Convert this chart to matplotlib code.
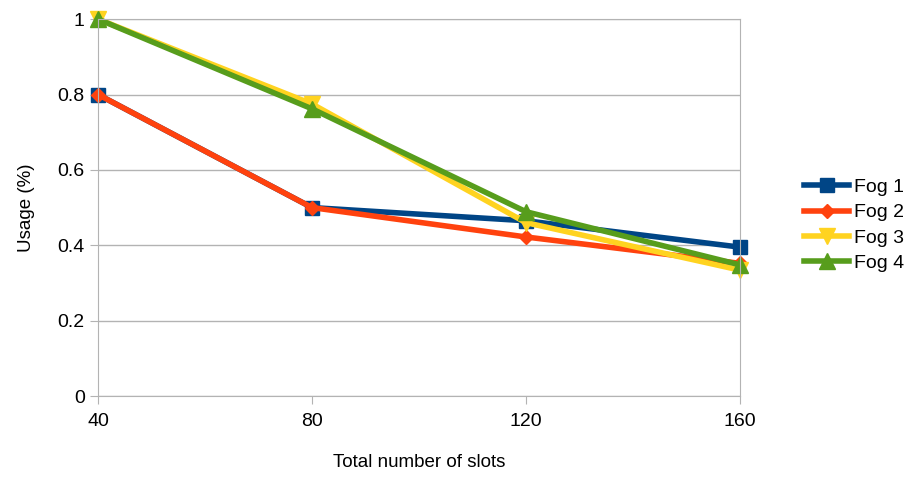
import matplotlib.pyplot as plt

# Data
slots = [40, 80, 120, 160]
fog1 = [0.80, 0.50, 0.465, 0.395]
fog2 = [0.80, 0.50, 0.422, 0.352]
fog3 = [1.00, 0.775, 0.46, 0.334]
fog4 = [1.00, 0.762, 0.489, 0.348]

series = [
    ('Fog 1', fog1, '#004586', 's', 10),
    ('Fog 2', fog2, '#ff420e', 'D', 7.5),
    ('Fog 3', fog3, '#ffd320', 'v', 11),
    ('Fog 4', fog4, '#579d1c', '^', 11),
]

plt.rcParams['font.family'] = ['Liberation Sans', 'DejaVu Sans']

fig = plt.figure(figsize=(9.13, 4.78), dpi=100)
ax = fig.add_axes([0.1073, 0.1715, 0.7032, 0.7885])

for name, vals, color, marker, ms in series:
    ax.plot(slots, vals, color=color, lw=4, marker=marker, ms=ms,
            label=name, clip_on=False)

ax.set_xlim(40, 160)
ax.set_ylim(0, 1)
ax.set_xticks(slots)
ax.set_yticks([0, 0.2, 0.4, 0.6, 0.8, 1])
ax.set_yticklabels(['0', '0.2', '0.4', '0.6', '0.8', '1'])
ax.grid(axis='y', color='#b3b3b3', lw=1)
ax.set_axisbelow(True)
for s in ax.spines.values():
    s.set_color('#b3b3b3')
ax.tick_params(colors='#b3b3b3', labelcolor='black', labelsize=14, length=5.5)
ax.tick_params(axis='x', pad=7)
ax.tick_params(axis='y', pad=4)

ax.set_xlabel('Total number of slots', fontsize=13.5, labelpad=17)
ax.set_ylabel('Usage (%)', fontsize=13.5, labelpad=16)

ax.legend(loc='center left', bbox_to_anchor=(1.073, 0.453), frameon=False,
          fontsize=14, handlelength=2.3, labelspacing=0.4, handletextpad=0.25)

fig.savefig('out.png', dpi=100)
